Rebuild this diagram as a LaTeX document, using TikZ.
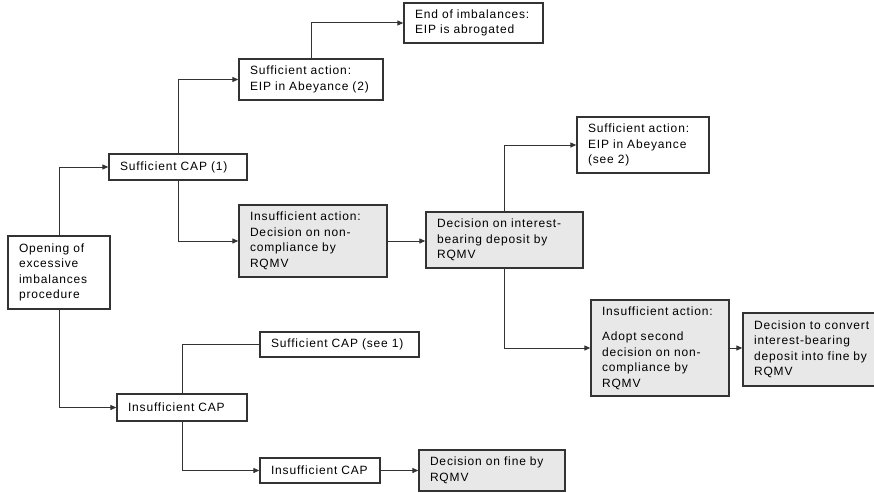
\documentclass[tikz,border=0pt]{standalone}
\usepackage{fontspec}
\setmainfont{Liberation Sans}[LetterSpace=7]
\usetikzlibrary{arrows.meta}
\definecolor{edge}{HTML}{333333}
\definecolor{shade}{HTML}{E8E8E8}
\tikzset{
  bx/.style={draw=edge, line width=1.3pt, fill=white, rectangle, align=left,
    inner xsep=11pt, inner ysep=3pt,
    font=\fontsize{12}{15.5}\selectfont},
  gbx/.style={bx, fill=shade},
  arr/.style={draw=edge, line width=1pt, -{Triangle[length=6pt,width=5pt]}},
  ln/.style={draw=edge, line width=1pt}
}
\begin{document}
\begin{tikzpicture}[x=1pt,y=-1pt]
\useasboundingbox (0,0) rectangle (874,492);
\clip (0,0) rectangle (874,492);
\fill[white] (0,0) rectangle (874,492);
% nodes: center = ((x1+x2)/2,(y1+y2)/2), width x2-x1, height y2-y1
\node[bx, minimum width=102pt, text width=80pt, minimum height=73pt] (A) at (59,272.5)
  {Opening of\\excessive\\imbalances\\procedure};
\node[bx, minimum width=138pt, text width=116pt, minimum height=26pt] (B) at (178,167)
  {Sufficient CAP (1)};
\node[bx, minimum width=144pt, text width=122pt, minimum height=41pt] (C) at (311,79.5)
  {Sufficient action:\\EIP in Abeyance (2)};
\node[bx, minimum width=139pt, text width=117pt, minimum height=40pt] (D) at (473.5,23)
  {End of imbalances:\\EIP is abrogated};
\node[gbx, minimum width=148pt, text width=126pt, minimum height=72pt] (E) at (313,241)
  {Insufficient action:\\Decision on non-\\compliance by\\RQMV};
\node[gbx, minimum width=157pt, text width=135pt, minimum height=56pt] (F) at (504.5,240)
  {Decision on interest-\\bearing deposit by\\RQMV};
\node[bx, minimum width=132pt, text width=110pt, minimum height=56pt] (G) at (643,145)
  {Sufficient action:\\EIP in Abeyance\\(see 2)};
\node[gbx, minimum width=138pt, text width=116pt, minimum height=96pt] (H) at (660,348)
  {Insufficient action:\\[10pt]Adopt second\\decision on non-\\compliance by\\RQMV};
\node[gbx, minimum width=147pt, text width=125pt, minimum height=73pt] (I) at (816.5,349.5)
  {Decision to convert\\interest-bearing\\deposit into fine by\\RQMV};
\node[bx, minimum width=130pt, text width=108pt, minimum height=27pt] (J) at (182,407.5)
  {Insufficient CAP};
\node[bx, minimum width=159pt, text width=137pt, minimum height=25pt] (K) at (339.5,344.5)
  {Sufficient CAP (see 1)};
\node[bx, minimum width=120pt, text width=98pt, minimum height=25pt] (L) at (320,470.5)
  {Insufficient CAP};
\node[gbx, minimum width=146pt, text width=124pt, minimum height=41pt] (M) at (492,470.5)
  {Decision on fine by\\RQMV};
% connectors
\draw[arr] (A.north) |- (B.west);
\draw[arr] (B.north) |- (C.west);
\draw[arr] (B.south) |- (E.west);
\draw[arr] (C.north) |- (D.west);
\draw[arr] (E.east) -- (E.east -| F.west);
\draw[arr] (F.north) |- (G.west);
\draw[arr] (F.south) |- (H.west);
\draw[arr] (H.east) -- (H.east -| I.west);
\draw[arr] (A.south) |- (J.west);
\draw[ln] (J.north) |- (K.west);
\draw[arr] (J.south) |- (L.west);
\draw[arr] (L.east) -- (M.west);
\end{tikzpicture}
\end{document}
